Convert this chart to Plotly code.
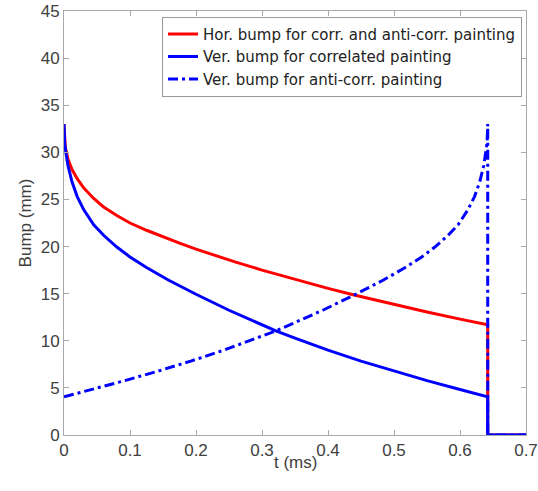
import plotly.graph_objects as go

# ---- data ----
t_hor = [0, 0.002, 0.006, 0.012, 0.02, 0.03, 0.045, 0.06, 0.08, 0.1, 0.125, 0.15, 0.175,
         0.2, 0.23, 0.259, 0.3, 0.35, 0.4, 0.438, 0.5, 0.55, 0.6, 0.642, 0.642, 0.7]
bump_hor = [33, 30.5, 29.3, 28.2, 27.2, 26.2, 25.1, 24.2, 23.3, 22.5, 21.73, 21.02, 20.36,
            19.73, 19.02, 18.37, 17.5, 16.5, 15.56, 14.88, 13.84, 13.05, 12.3, 11.7, 0, 0]

t_ver_corr = [0, 0.001, 0.003, 0.006, 0.012, 0.02, 0.03, 0.045, 0.06, 0.08, 0.1, 0.125,
              0.158, 0.2, 0.25, 0.3, 0.321, 0.35, 0.4, 0.45, 0.5, 0.55, 0.6, 0.642, 0.642, 0.7]
bump_ver_corr = [33, 31.0, 29.9, 28.6, 26.9, 25.3, 23.9, 22.3, 21.2, 19.95, 18.9, 17.77,
                 16.45, 14.94, 13.24, 11.69, 11.05, 10.28, 9.0, 7.84, 6.77, 5.77, 4.83, 4.05, 0, 0]

t_ver_anti = [0, 0.042, 0.092, 0.142, 0.192, 0.242, 0.292, 0.321, 0.342, 0.392, 0.442,
              0.484, 0.517, 0.542, 0.562, 0.582, 0.597, 0.612, 0.622, 0.63, 0.636, 0.639,
              0.641, 0.642, 0.642, 0.7]
bump_ver_anti = [4.05, 4.83, 5.77, 6.77, 7.84, 9.0, 10.28, 11.05, 11.69, 13.24, 14.94,
                 16.45, 17.77, 18.9, 19.95, 21.2, 22.3, 23.9, 25.3, 26.9, 28.6, 29.9,
                 31.0, 33, 0, 0]

names = ["Hor. bump for corr. and anti-corr. painting",
         "Ver. bump for correlated painting",
         "Ver. bump for anti-corr. painting"]

x_ticks = [0, 0.1, 0.2, 0.3, 0.4, 0.5, 0.6, 0.7]
x_tick_labels = ["0", "0.1", "0.2", "0.3", "0.4", "0.5", "0.6", "0.7"]
y_ticks = [0, 5, 10, 15, 20, 25, 30, 35, 40, 45]

FONT = "Liberation Sans, Arial, Helvetica, sans-serif"
LEG_FONT = "DejaVu Sans, Liberation Sans, sans-serif"
GRAY_TXT = "#404040"
AX_COL = "#a8a8a8"

fig = go.Figure()
fig.add_trace(go.Scatter(x=t_hor, y=bump_hor, mode="lines", name=names[0],
                         line=dict(color="#ff0000", width=3)))
fig.add_trace(go.Scatter(x=t_ver_corr, y=bump_ver_corr, mode="lines", name=names[1],
                         line=dict(color="#0000ff", width=3)))
fig.add_trace(go.Scatter(x=t_ver_anti, y=bump_ver_anti, mode="lines", name=names[2],
                         line=dict(color="#0000ff", width=3, dash="10px,4px,3px,4px")))

axis_common = dict(showline=True, linecolor=AX_COL, linewidth=1, mirror="ticks",
                   ticks="inside", ticklen=5, tickcolor=AX_COL, showgrid=False,
                   zeroline=False, automargin=False,
                   tickfont=dict(family=FONT, size=17, color=GRAY_TXT))

fig.update_xaxes(range=[0, 0.7], tickvals=x_ticks, ticktext=x_tick_labels, **axis_common)
fig.update_yaxes(range=[0, 45], tickvals=y_ticks,
                 title=dict(text="Bump (mm)", font=dict(family=FONT, size=17, color=GRAY_TXT),
                            standoff=4),
                 **axis_common)

fig.add_annotation(text="t (ms)", xref="paper", yref="paper", x=0.5, y=-0.066,
                   xanchor="center", yanchor="middle", showarrow=False,
                   font=dict(family=FONT, size=17, color=GRAY_TXT))

fig.update_layout(
    width=538, height=491,
    margin=dict(l=64, r=12, t=11, b=56),
    plot_bgcolor="white", paper_bgcolor="white",
    font=dict(family=FONT, color="#222222"),
    legend=dict(x=0.9913, xanchor="right", y=0.9866, yanchor="top",
                bgcolor="white", bordercolor="#9a9a9a", borderwidth=1,
                font=dict(family=LEG_FONT, size=15, color="#222222"),
                tracegroupgap=0),
    showlegend=True,
)

fig.write_html("out.html")
